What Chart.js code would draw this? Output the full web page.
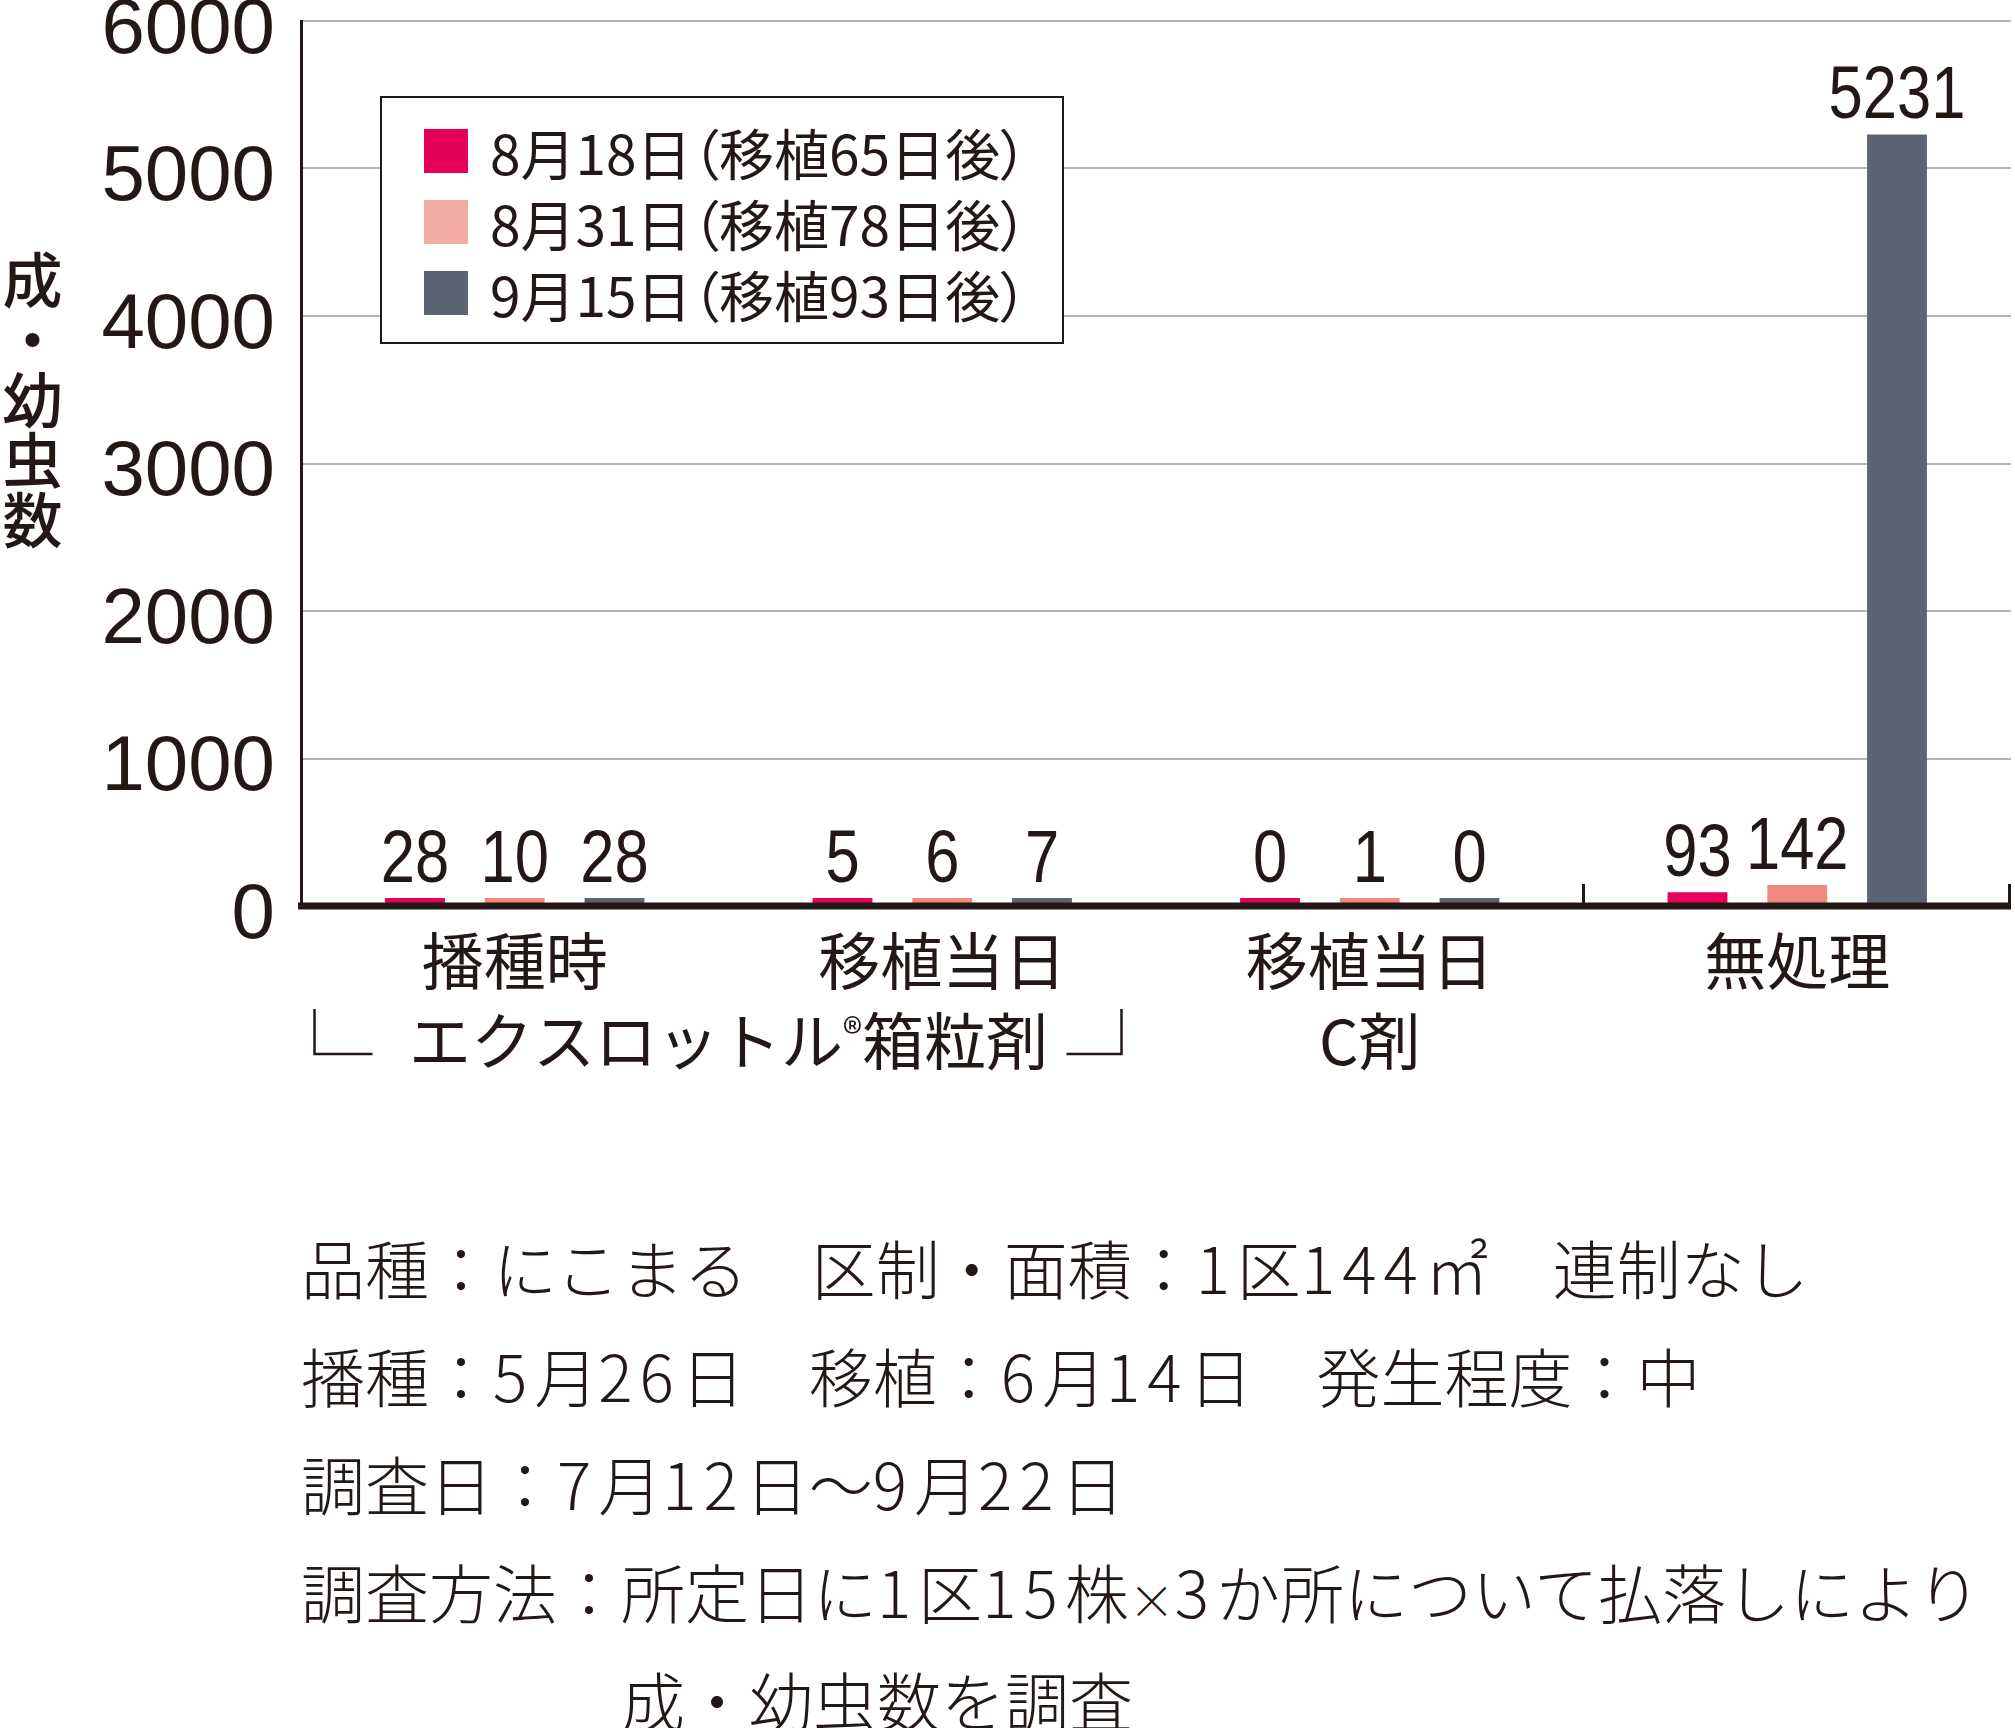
<!DOCTYPE html>
<html lang="ja">
<head>
<meta charset="utf-8">
<title>成・幼虫数</title>
<script src="https://cdn.jsdelivr.net/npm/chart.js@4.4.1/dist/chart.umd.min.js"></script>
<style>
  html, body { margin: 0; padding: 0; background: #fff; }
  body { width: 2015px; height: 1728px; position: relative; overflow: hidden;
         font-family: 'Noto Sans CJK JP', 'Noto Sans', sans-serif; color: #231815; }
  #wrap { position: absolute; left: 0; top: 0; width: 2015px; height: 1100px; }
  #ytitle { position: absolute; left: 1px; top: 250px; font-size: 60px; line-height: 62px;
            writing-mode: vertical-rl; font-weight: 500; }
  #legend { position: absolute; left: 380px; top: 96px; width: 680px; height: 244px;
            border: 2px solid #231815; background: #fff; }
  .row { position: absolute; left: 42px; height: 60px; display: flex; align-items: center;
         font-size: 55px; font-feature-settings: "palt"; white-space: nowrap; }
  .sw { width: 44px; height: 44px; margin-right: 22px; }
  #notes { position: absolute; left: 301px; top: 1212px; font-size: 64px;
           font-weight: 300; }
  #notes div { height: 108px; line-height: 108px; white-space: pre; }
  #notes .d { letter-spacing: 7px; }
  #notes .x { font-size: 46px; line-height: 1; }
</style>
</head>
<body>
<div id="wrap"><canvas id="chart" width="2015" height="1100"></canvas></div>
<div id="ytitle">成・幼虫数</div>
<div id="legend"></div>
<div id="notes"></div>
<script>
// categories (multi-line tick labels) and the three survey dates
const categories = [['播種時'], ['移植当日'], ['移植当日', 'C剤'], ['無処理']];
const seriesLabels = ['8月18日（移植65日後）', '8月31日（移植78日後）', '9月15日（移植93日後）'];
const aug18 = [28, 5, 0, 93];
const aug31 = [10, 6, 1, 142];
const sep15 = [28, 7, 0, 5231];
const yMax = 6000;
const yStep = 1000;
const groupLabel = ['エクスロットル', '®', '箱粒剤'];
const notes = [
  '品種：にこまる　区制・面積：1区144㎡　連制なし',
  '播種：5月26日　移植：6月14日　発生程度：中',
  '調査日：7月12日～9月22日',
  '調査方法：所定日に1区15株×3か所について払落しにより',
  '　　　　　成・幼虫数を調査'
];

const ink = '#231815';
const barColors = ['#E5005A', '#F08A7F', '#5C6472'];
const swatchColors = ['#E5005A', '#F4AAA4', '#5C6472'];

// HTML legend and notes
const legendEl = document.getElementById('legend');
seriesLabels.forEach((label, i) => {
  const row = document.createElement('div');
  row.className = 'row';
  row.style.top = (23 + i * 71) + 'px';
  row.innerHTML = '<div class="sw" style="background:' + swatchColors[i] + '"></div><span>' + label + '</span>';
  legendEl.appendChild(row);
});
// digits in the notes are set a little wider than the CJK font gives, × smaller
document.getElementById('notes').innerHTML = notes
  .map(line => '<div>' + line
    .replace(/[0-9]+/g, m => '<span class="d">' + m + '</span>')
    .replace('×', '<span class="x">×</span>') + '</div>')
  .join('');

// condensed digits like the original artwork
function drawNarrow(ctx, text, x, y, size) {
  ctx.save();
  ctx.translate(x, y);
  ctx.scale(0.82, 1);
  ctx.font = size + 'px "Liberation Sans", Arial, sans-serif';
  ctx.textAlign = 'center';
  ctx.textBaseline = 'alphabetic';
  ctx.fillStyle = ink;
  ctx.fillText(text, 0, 0);
  ctx.restore();
}

const overlay = {
  id: 'overlay',
  afterDatasetsDraw(chart) {
    const { ctx, chartArea, scales: { x, y } } = chart;
    const y0 = y.getPixelForValue(0);
    ctx.save();

    // thick base line over the bar bottoms
    ctx.strokeStyle = ink;
    ctx.lineWidth = 7;
    ctx.beginPath();
    ctx.moveTo(chartArea.left - 3, y0);
    ctx.lineTo(chartArea.right, y0);
    ctx.stroke();

    // small separators around the untreated group
    ctx.lineWidth = 3;
    [2.5, 3.5].forEach(v => {
      const px = Math.min(x.getPixelForValue(v), chartArea.right - 1.5);
      ctx.beginPath();
      ctx.moveTo(px, y0);
      ctx.lineTo(px, y0 - 22);
      ctx.stroke();
    });

    // value labels
    chart.data.datasets.forEach((ds, di) => {
      chart.getDatasetMeta(di).data.forEach((bar, i) => {
        const top = Math.min(bar.y, y0);
        drawNarrow(ctx, String(ds.data[i]), bar.x, top - 16, 75);
      });
    });

    // bracketed product name spanning the first two groups
    const cx = x.getPixelForValue(0.5);
    const ty = y0 + 135;
    ctx.fillStyle = ink;
    ctx.textBaseline = 'middle';
    ctx.textAlign = 'left';
    const big = '62px "Noto Sans CJK JP", sans-serif';
    const small = '40px "Noto Sans CJK JP", sans-serif';
    ctx.font = big;
    const w0 = ctx.measureText(groupLabel[0]).width;
    const w2 = ctx.measureText(groupLabel[2]).width;
    ctx.font = small;
    const w1 = ctx.measureText(groupLabel[1]).width;
    let tx = cx - (w0 + w1 + w2) / 2;
    ctx.font = big;
    ctx.fillText(groupLabel[0], tx, ty);
    tx += w0;
    ctx.font = small;
    ctx.fillText(groupLabel[1], tx, ty - 8);
    tx += w1;
    ctx.font = big;
    ctx.fillText(groupLabel[2], tx, ty);

    ctx.lineWidth = 2.5;
    ctx.beginPath();
    ctx.moveTo(cx - 414, ty - 32);
    ctx.lineTo(cx - 414, ty + 13);
    ctx.lineTo(cx - 356, ty + 13);
    ctx.moveTo(cx + 338, ty + 13);
    ctx.lineTo(cx + 393, ty + 13);
    ctx.lineTo(cx + 393, ty - 32);
    ctx.stroke();
    ctx.restore();
  }
};

new Chart(document.getElementById('chart'), {
  type: 'bar',
  data: {
    labels: categories,
    datasets: [
      { label: seriesLabels[0], data: aug18, backgroundColor: barColors[0] },
      { label: seriesLabels[1], data: aug31, backgroundColor: barColors[1] },
      { label: seriesLabels[2], data: sep15, backgroundColor: barColors[2] }
    ]
  },
  options: {
    responsive: false,
    animation: false,
    layout: { padding: { top: 21, right: 4, left: 0, bottom: 0 } },
    datasets: {
      bar: { categoryPercentage: 0.70, barPercentage: 0.6, minBarLength: 8 }
    },
    plugins: {
      legend: { display: false },
      tooltip: { enabled: false }
    },
    scales: {
      x: {
        grid: { display: false, drawTicks: false },
        border: { display: false },
        ticks: {
          color: ink,
          padding: 15,
          maxRotation: 0,
          autoSkip: false,
          font: { family: '"Noto Sans CJK JP", sans-serif', size: 62, lineHeight: 1.29 }
        },
        afterFit(scale) {
          scale.height = 194;
          scale.paddingLeft = 0;
          scale.paddingRight = 0;
        }
      },
      y: {
        min: 0,
        max: yMax,
        grid: { color: '#B4B4B4', lineWidth: 2, drawTicks: false },
        border: { display: true, color: ink, width: 3 },
        ticks: {
          stepSize: yStep,
          color: ink,
          padding: 26,
          labelOffset: 10,
          callback: v => String(v),
          font: { family: '"Liberation Sans", Arial, sans-serif', size: 78 }
        },
        afterFit(scale) {
          scale.width = 301;
          scale.paddingTop = 0;
          scale.paddingBottom = 0;
        }
      }
    }
  },
  plugins: [overlay]
});
</script>
</body>
</html>
